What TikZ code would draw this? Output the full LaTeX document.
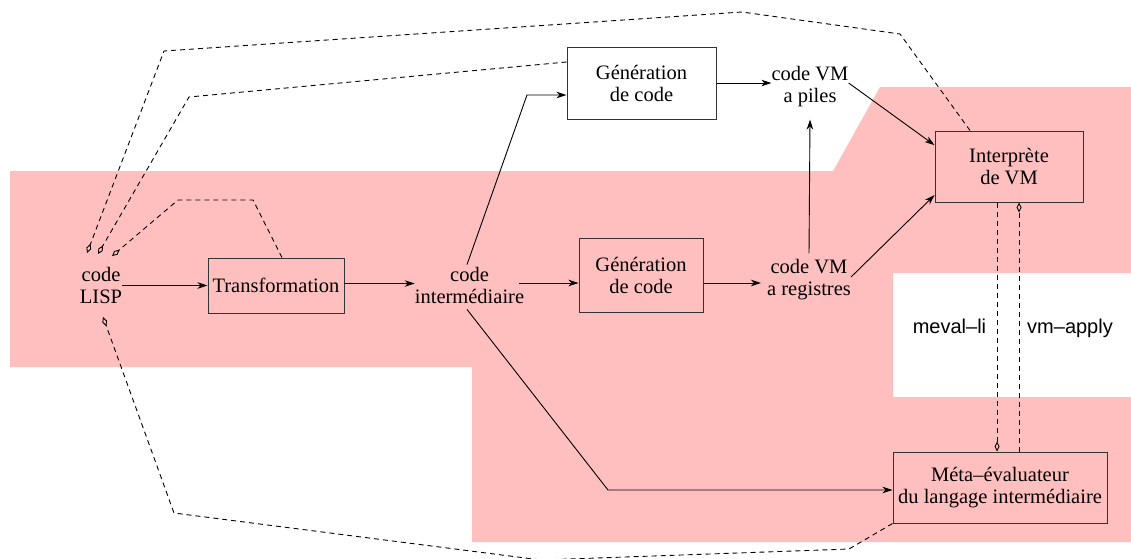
\documentclass[tikz,border=0pt]{standalone}
\usepackage{fontspec}
\setmainfont{Liberation Serif}
\setsansfont{Liberation Sans}
\usetikzlibrary{arrows.meta}
\definecolor{pinkzone}{RGB}{255,191,191}
\begin{document}
\begin{tikzpicture}[x=1pt,y=-1pt,
  font=\fontsize{20.5}{22}\selectfont,
  txt/.style={align=center, inner sep=0pt},
  box/.style={draw=black!80, line width=1pt, align=center, inner sep=0pt},
  lbl/.style={font=\fontsize{20}{22}\selectfont\sffamily, inner sep=0pt},
  flow/.style={line width=0.9pt, -{Stealth[length=10pt,width=6.5pt,inset=3pt]}},
  call/.style={line width=0.9pt, dash pattern=on 5pt off 4pt,
    -{Diamond[open,length=10pt,width=5pt,line width=0.9pt]}}]
\useasboundingbox (0,0) rectangle (1131,558);

% shaded zone
\fill[pinkzone] (10,171) -- (833,171) -- (880,87) -- (1131,87) -- (1131,273)
  -- (893,273) -- (893,397) -- (1131,397) -- (1131,542) -- (472,542)
  -- (472,367) -- (10,367) -- cycle;

% nodes
\node[txt] (lisp) at (101,285.5) {code\\LISP};
\node[box, minimum width=136pt, minimum height=55pt] (trans) at (276,285.5) {Transformation};
\node[txt] (inter) at (469.5,285) {code\\intermédiaire};
\node[box, minimum width=149pt, minimum height=72pt] (gentop) at (641.5,83) {Génération\\de code};
\node[box, minimum width=124pt, minimum height=74pt] (genmid) at (641,275) {Génération\\de code};
\node[txt] (piles) at (810,87) {code VM\\a piles};
\node[txt] (regs) at (809,280) {code VM\\a registres};
\node[box, minimum width=148pt, minimum height=71pt] (interp) at (1009,166.5) {Interprète\\de VM};
\node[box, minimum width=214pt, minimum height=71pt] (meta) at (1000,487.5) {Méta--évaluateur\\du langage intermédiaire};
\node[lbl, anchor=base] (lbmeval) at (949.5,333) {meval--li};
\node[lbl, anchor=base] (lbapply) at (1070,333) {vm--apply};

% bend points
\coordinate (bup) at (527,95);
\coordinate (bdown) at (608,490);

% main flow
\draw[flow] (lisp.east |- trans.west) -- (trans.west);
\draw[flow] ([yshift=2pt]trans.east) -- ([yshift=2pt]trans.east -| inter.west);
\draw[flow] ([xshift=-2.5pt,yshift=2pt]inter.north) -- (bup) -- (bup -| gentop.west);
\draw[flow] ([xshift=-5pt,yshift=2pt]inter.east) -- ([yshift=2pt]inter.east -| genmid.west);
\draw[flow] ([xshift=-2.5pt,yshift=-6pt]inter.south) -- (bdown) -- (bdown -| meta.west);
\draw[flow] (gentop.east) -- (gentop.east -| piles.west);
\draw[flow] ([yshift=-3pt]regs.west -| genmid.east) -- ([xshift=-6pt,yshift=-3pt]regs.west);
\draw[flow] ([yshift=6pt]regs.north) -- ([yshift=-12pt]piles.south);
\draw[flow] ([yshift=4pt]piles.east) -- (interp.164);
\draw[flow] ([yshift=3pt]regs.east) -- (interp.201);

% calls between interpreter and meta-evaluator
\draw[call] ([xshift=-12pt]interp.south) -- ([xshift=-12pt]interp.south |- meta.north);
\draw[call] ([xshift=10pt]interp.south |- meta.north) -- ([xshift=10pt]interp.south);

% calls back to LISP code
\draw[call] ([xshift=6pt]trans.north) -- (253,200) -- (178,200) -- ([xshift=11pt,yshift=11pt]lisp.north);
\draw[call] ([yshift=21pt]gentop.west) -- (189,97) -- ([xshift=-3pt,yshift=13pt]lisp.north);
\draw[call] ([xshift=-39pt]interp.north) -- (900,34) -- (742,12) -- (164,51) -- ([xshift=-14pt,yshift=14pt]lisp.north);
\draw[call] (meta.south west) -- (849,549) -- (541,560) -- (174,513) -- ([xshift=2pt,yshift=-13pt]lisp.south);
\end{tikzpicture}
\end{document}
